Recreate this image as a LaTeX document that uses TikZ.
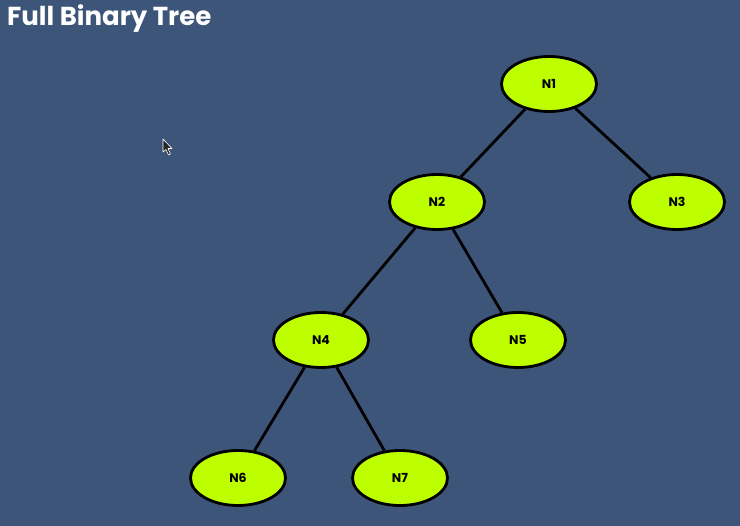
\documentclass[tikz,border=0pt]{standalone}
\usepackage{fontspec}
\setmainfont{Poppins}
\usetikzlibrary{shapes.geometric}
\definecolor{bgblue}{RGB}{60,85,120}
\definecolor{lime}{RGB}{190,255,0}
\begin{document}
\begin{tikzpicture}[x=1pt,y=-1pt,
  treenode/.style={ellipse,draw=black,line width=2.8pt,fill=lime,minimum width=95pt,minimum height=55pt,inner sep=0pt,font=\bfseries\fontsize{12.5}{15}\selectfont},
  edge/.style={draw=black,line width=2.8pt}]
\fill[bgblue] (0,0) rectangle (740,526);
\useasboundingbox (0,0) rectangle (740,526);
\node[anchor=west,text=white,font=\bfseries\fontsize{26}{30}\selectfont,inner sep=0pt] (title) at (7,19) {Full Binary Tree};
\node[treenode] (n1) at (549,84) {N1};
\node[treenode] (n2) at (437,202) {N2};
\node[treenode] (n3) at (677,202) {N3};
\node[treenode] (n4) at (321,340) {N4};
\node[treenode] (n5) at (518,340) {N5};
\node[treenode] (n6) at (238,478) {N6};
\node[treenode] (n7) at (400,478) {N7};
\draw[edge] (n1) -- (n2);
\draw[edge] (n1) -- (n3);
\draw[edge] (n2) -- (n4);
\draw[edge] (n2) -- (n5);
\draw[edge] (n4) -- (n6);
\draw[edge] (n4) -- (n7);
% mouse cursor
\filldraw[fill=black!85,draw=white!80,line width=0.6pt,line join=round]
  (163,139) -- (163,152) -- (166,149.5) -- (168.5,155) -- (170.5,154) -- (168,148.5) -- (172,148.5) -- cycle;
\end{tikzpicture}
\end{document}
